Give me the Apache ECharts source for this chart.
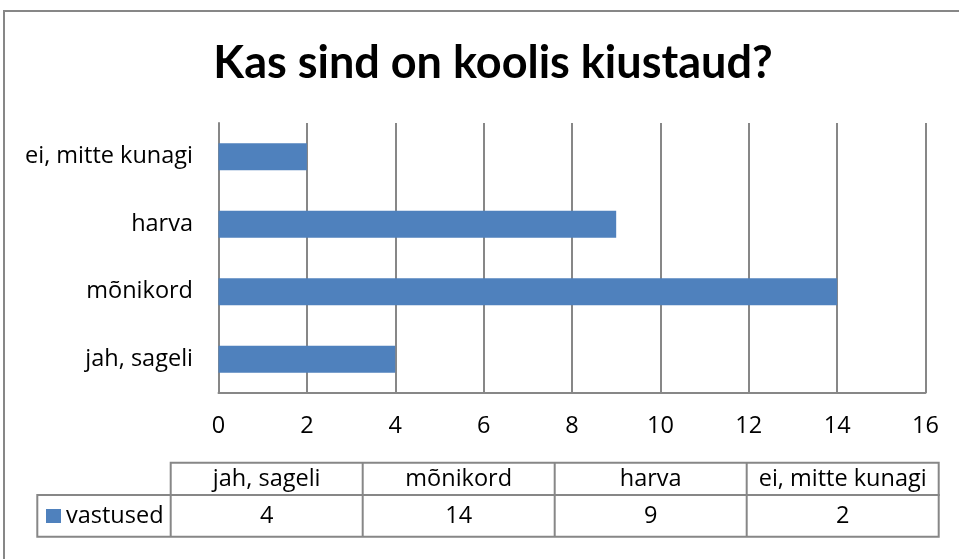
<!DOCTYPE html>
<html><head><meta charset="utf-8">
<script src="https://cdn.jsdelivr.net/npm/echarts@6/dist/echarts.min.js"></script>
<style>html,body{margin:0;padding:0;background:#fff}#c{width:959px;height:559px}</style>
</head><body><div id="c"></div>
<script>
const titleText = 'Kas sind on koolis kiustaud?';
const categories = ['jah, sageli', 'mõnikord', 'harva', 'ei, mitte kunagi'];
const seriesName = 'vastused';
const values = [4, 14, 9, 2];
const xTicks = [0, 2, 4, 6, 8, 10, 12, 14, 16];

const FONT = "'Open Sans', sans-serif";
const TFONT = "Lato, 'Open Sans', sans-serif";
const FS = 23.5;
const GRAY = '#878787';
const BLUE = '#4F81BD';

const chart = echarts.init(document.getElementById('c'), null, {renderer: 'canvas'});

// data table geometry
const tblLeft = 170.7, colW = 192, hdrTop = 462.7, rowMid = 495, tblBottom = 536.7, legLeft = 37.3;
const txt = (x, y, s, align) => ({type: 'text', x: x, y: y,
  style: {text: s, fill: '#000', fontSize: FS, fontFamily: FONT, textAlign: align, textVerticalAlign: 'middle'}});
const graphics = [];
graphics.push({type: 'rect', shape: {x: 4, y: 11, width: 1200, height: 800}, style: {fill: 'none', stroke: GRAY, lineWidth: 2}, silent: true});
graphics.push({type: 'rect', shape: {x: tblLeft, y: hdrTop, width: colW * categories.length, height: rowMid - hdrTop}, style: {fill: 'none', stroke: GRAY, lineWidth: 2}});
graphics.push({type: 'rect', shape: {x: legLeft, y: rowMid, width: tblLeft - legLeft + colW * categories.length, height: tblBottom - rowMid}, style: {fill: 'none', stroke: GRAY, lineWidth: 2}});
graphics.push({type: 'line', shape: {x1: tblLeft, y1: rowMid, x2: tblLeft, y2: tblBottom}, style: {stroke: GRAY, lineWidth: 2}});
categories.forEach((c, i) => {
  const x0 = tblLeft + colW * i;
  if (i > 0) graphics.push({type: 'line', shape: {x1: x0, y1: hdrTop, x2: x0, y2: tblBottom}, style: {stroke: GRAY, lineWidth: 2}});
  graphics.push(txt(x0 + colW / 2, (hdrTop + rowMid) / 2, c, 'center'));
  graphics.push(txt(x0 + colW / 2, (rowMid + tblBottom) / 2, String(values[i]), 'center'));
});
graphics.push({type: 'rect', shape: {x: 46, y: 509, width: 15, height: 14}, style: {fill: BLUE}});
graphics.push(txt(66, (rowMid + tblBottom) / 2, seriesName, 'left'));

chart.setOption({
  animation: false,
  backgroundColor: '#fff',
  title: {text: titleText, left: 488, top: 36, textAlign: 'center',
    textStyle: {fontFamily: TFONT, fontWeight: 'bold', fontSize: 45, color: '#000'}},
  grid: {left: 218.5, right: 33.5, top: 123, bottom: 166, containLabel: false},
  xAxis: {type: 'value', min: 0, max: 16, interval: 2,
    axisLine: {show: true, lineStyle: {color: GRAY, width: 2}},
    axisTick: {show: false},
    splitLine: {show: true, lineStyle: {color: GRAY, width: 2}},
    axisLabel: {margin: 21, fontFamily: FONT, fontSize: FS, color: '#000',
      formatter: v => xTicks.indexOf(v) >= 0 ? String(v) : ''}},
  yAxis: {type: 'category', data: categories,
    axisLine: {show: true, lineStyle: {color: GRAY, width: 2}},
    axisTick: {show: false},
    axisLabel: {margin: 25.5, fontFamily: FONT, fontSize: FS, color: '#000'}},
  series: [{name: seriesName, type: 'bar', data: values, barWidth: '40%', itemStyle: {color: BLUE}}],
  graphic: graphics
});
</script></body></html>
